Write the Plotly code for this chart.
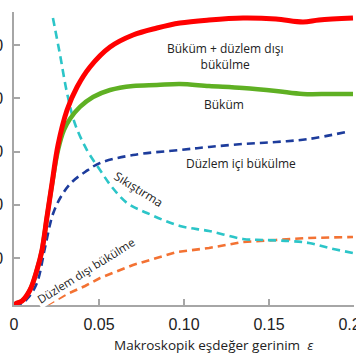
import plotly.graph_objects as go

# Strain (x) and response (y, in axis-tick units)
red_x = [0, 0.0018, 0.0047, 0.0094, 0.0135, 0.0165, 0.0194, 0.0224, 0.0259, 0.0312, 0.0371, 0.0447,
         0.0565, 0.0700, 0.0841, 0.0976, 0.1147, 0.1347, 0.1541, 0.1700, 0.1794, 0.1994]
red_y = [0.117, 0.155, 0.192, 0.399, 0.775, 1.151, 1.770, 2.408, 3.122, 3.779, 4.211, 4.587,
         4.962, 5.188, 5.319, 5.413, 5.470, 5.507, 5.488, 5.432, 5.470, 5.507]

green_x = [0, 0.0018, 0.0047, 0.0094, 0.0135, 0.0165, 0.0194, 0.0224, 0.0259, 0.0294, 0.0329, 0.0388,
           0.0465, 0.0565, 0.0700, 0.0841, 0.0976, 0.1147, 0.1347, 0.1541, 0.1700, 0.1859, 0.1994]
green_y = [0.117, 0.155, 0.192, 0.399, 0.775, 1.151, 1.770, 2.390, 3.028, 3.404, 3.610, 3.836,
           4.023, 4.155, 4.230, 4.249, 4.268, 4.230, 4.192, 4.136, 4.080, 4.080, 4.080]

cyan_x = [0.0229, 0.0271, 0.0312, 0.0359, 0.0429, 0.0506, 0.0576, 0.0665, 0.0782, 0.0976, 0.1147,
          0.1347, 0.1465, 0.1618, 0.1735, 0.1853, 0.1994]
cyan_y = [5.507, 4.812, 4.099, 3.516, 3.028, 2.653, 2.333, 2.033, 1.845, 1.601, 1.507,
          1.357, 1.338, 1.319, 1.282, 1.188, 1.094]

navy_x = [0, 0.0035, 0.0082, 0.0135, 0.0182, 0.0229, 0.0282, 0.0341, 0.0418, 0.0506, 0.0700,
          0.0976, 0.1147, 0.1347, 0.1541, 0.1735, 0.1953]
navy_y = [0.098, 0.117, 0.249, 0.531, 1.188, 1.826, 2.183, 2.427, 2.615, 2.784, 2.934,
          3.028, 3.085, 3.141, 3.179, 3.235, 3.366]

orange_x = [0.0194, 0.0312, 0.0418, 0.0506, 0.0700, 0.0959, 0.1147, 0.1347, 0.1541, 0.1735, 0.1994]
orange_y = [0.117, 0.324, 0.474, 0.624, 0.869, 1.113, 1.188, 1.301, 1.338, 1.376, 1.395]

x_tickvals = [0, 0.05, 0.10, 0.15, 0.20]
x_ticktext = ["0", "0.05", "0.10", "0.15", "0.20"]
y_tickvals = [1, 2, 3, 4, 5]
y_ticktext = ["0", "0", "0", "0", "0"]

fig = go.Figure()
dash = "8px,5px"
fig.add_trace(go.Scatter(x=orange_x, y=orange_y, mode="lines",
                         line=dict(color="#f37233", width=2.6, dash=dash)))
fig.add_trace(go.Scatter(x=cyan_x, y=cyan_y, mode="lines", line_shape="spline",
                         line=dict(color="#2cc5c8", width=2.6, dash=dash)))
fig.add_trace(go.Scatter(x=navy_x, y=navy_y, mode="lines", line_shape="spline",
                         line=dict(color="#1d3c9c", width=2.6, dash=dash)))
fig.add_trace(go.Scatter(x=green_x, y=green_y, mode="lines", line_shape="spline",
                         line=dict(color="#5fb023", width=4.5)))
fig.add_trace(go.Scatter(x=red_x, y=red_y, mode="lines", line_shape="spline",
                         line=dict(color="#ff0000", width=5)))

ann_font = dict(family="Open Sans", size=12, color="#222222")
annotations = [
    dict(x=0.1241, y=4.793, text="Büküm + düzlem dışı<br>bükülme"),
    dict(x=0.1235, y=3.892, text="Büküm"),
    dict(x=0.1335, y=2.784, text="Düzlem içi bükülme"),
    dict(x=0.0735, y=2.277, text="Sıkıştırma", textangle=32),
    dict(x=0.0424, y=0.756, text="Düzlem dışı bükülme", textangle=-32, bgcolor="white",
         font=dict(family="Open Sans", size=11.5, color="#222222")),
]
for a in annotations:
    a.setdefault("font", ann_font)
    fig.add_annotation(xref="x", yref="y", showarrow=False, **a)

fig.add_annotation(xref="paper", yref="paper", x=0.588, y=-0.1365, showarrow=False,
                   xanchor="center", yanchor="middle",
                   text="Makroskopik eşdeğer gerinim  <i>ε</i>",
                   font=dict(family="Open Sans", size=13.5, color="#222222"))

axis_common = dict(showgrid=False, zeroline=False, showline=True, linecolor="#a6a6a6",
                   linewidth=1.5, ticks="inside", ticklen=6, tickcolor="#a6a6a6", tickwidth=1.5,
                   tickfont=dict(family="Liberation Sans", size=16, color="#222222"),
                   ticklabeloverflow="allow", automargin=False)
fig.update_xaxes(range=[0, 0.2], tickmode="array", tickvals=x_tickvals, ticktext=x_ticktext,
                 ticklabelstandoff=4, **axis_common)
fig.update_yaxes(range=[0.117, 5.62], tickmode="array", tickvals=y_tickvals, ticktext=y_ticktext,
                 ticklabelstandoff=6, **axis_common)

fig.update_layout(width=356, height=364, margin=dict(l=14, r=2, t=12, b=59),
                  paper_bgcolor="white", plot_bgcolor="white", showlegend=False)
fig.write_html("out.html", config={"displayModeBar": False},
               post_script="document.body.style.margin='0px';")
